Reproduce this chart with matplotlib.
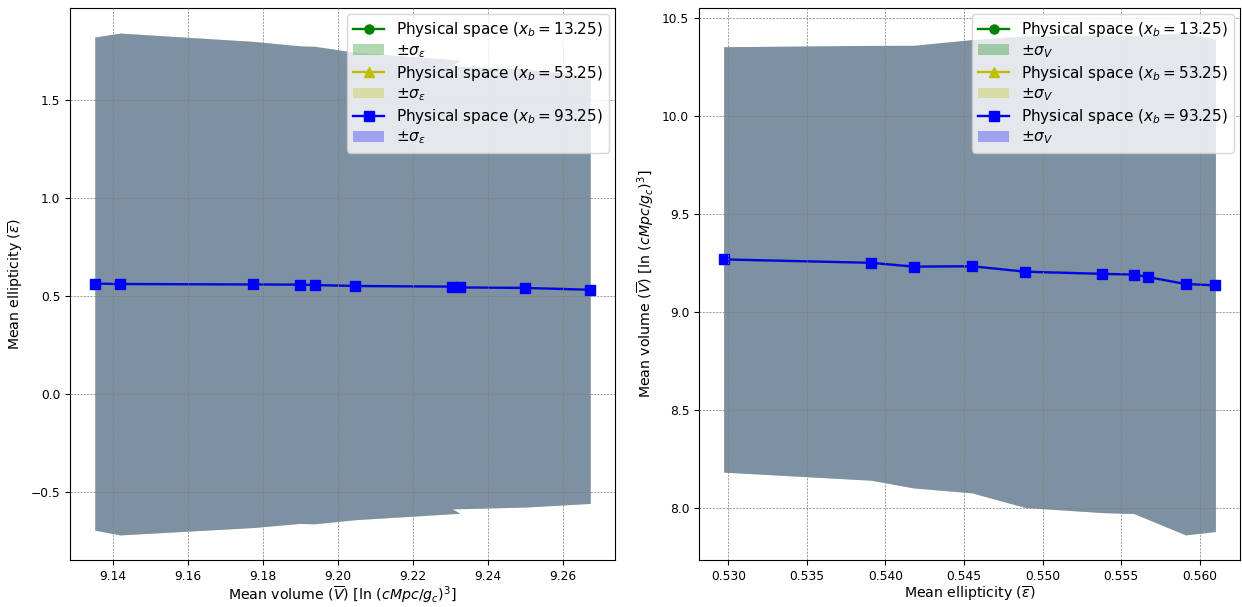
import numpy as np
import matplotlib
matplotlib.use("Agg")
import matplotlib.pyplot as plt

# bin labels (x_b) for the three series
XB = [13.25, 53.25, 93.25]
COLORS = ["g", "y", "b"]
MARKERS = ["o", "^", "s"]

# mean ellipticity / mean volume per bin (same for all three series)
mean_ell = [0.5297, 0.5391, 0.5418, 0.5455, 0.5489, 0.5538, 0.5558, 0.5567, 0.5591, 0.5610]
mean_vol = [9.2674, 9.2500, 9.2306, 9.2326, 9.2047, 9.1938, 9.1900, 9.1774, 9.1419, 9.1351]
sigma_ell = [1.090, 1.118, 1.130, 1.156, 1.192, 1.218, 1.218, 1.240, 1.280, 1.258]
sigma_vol = [1.086, 1.110, 1.130, 1.157, 1.204, 1.219, 1.220, 1.237, 1.281, 1.257]

ell = np.array(mean_ell)
vol = np.array(mean_vol)
s_ell = np.array(sigma_ell)
s_vol = np.array(sigma_vol)

FS = 10.2
LEG_FS = 11
TICK_FS = 8.8

fig = plt.figure(figsize=(12.42, 6.07), dpi=100)
W, H = 1242., 607.
ax1 = fig.add_axes([70/W, (H-560)/H, (615-70)/W, (560-8)/H])
ax2 = fig.add_axes([699/W, (H-560)/H, (1240-699)/W, (560-8)/H])

for xb, c, m in zip(XB, COLORS, MARKERS):
    ax1.plot(vol, ell, color=c, marker=m, markersize=6.5, linewidth=1.7,
             label=r"Physical space ($x_b=%.2f$)" % xb)
    ax1.fill_between(vol, ell - s_ell, ell + s_ell, color=c, alpha=0.3, linewidth=0,
                     label=r"$\pm\sigma_\varepsilon$")

    ax2.plot(ell, vol, color=c, marker=m, markersize=6.5, linewidth=1.7,
             label=r"Physical space ($x_b=%.2f$)" % xb)
    ax2.fill_between(ell, vol - s_vol, vol + s_vol, color=c, alpha=0.3, linewidth=0,
                     label=r"$\pm\sigma_V$")

ax1.set_xlabel(r"Mean volume ($\overline{V}$) [$\ln\,(cMpc/g_c)^3$]", fontsize=FS, labelpad=1.5)
ax1.set_ylabel(r"Mean ellipticity ($\overline{\varepsilon}$)", fontsize=FS)
ax2.set_xlabel(r"Mean ellipticity ($\overline{\varepsilon}$)", fontsize=FS, labelpad=1.5)
ax2.set_ylabel(r"Mean volume ($\overline{V}$) [$\ln\,(cMpc/g_c)^3$]", fontsize=FS)

for ax in (ax1, ax2):
    ax.grid(True, linestyle=(0, (2.5, 1.5)), color="gray", linewidth=0.6, alpha=0.9, zorder=3)
    ax.set_axisbelow(False)
    ax.tick_params(labelsize=TICK_FS)
    ax.legend(loc="upper right", fontsize=LEG_FS, labelspacing=0.25, borderaxespad=0.4)

fig.savefig("out.png", dpi=100)
